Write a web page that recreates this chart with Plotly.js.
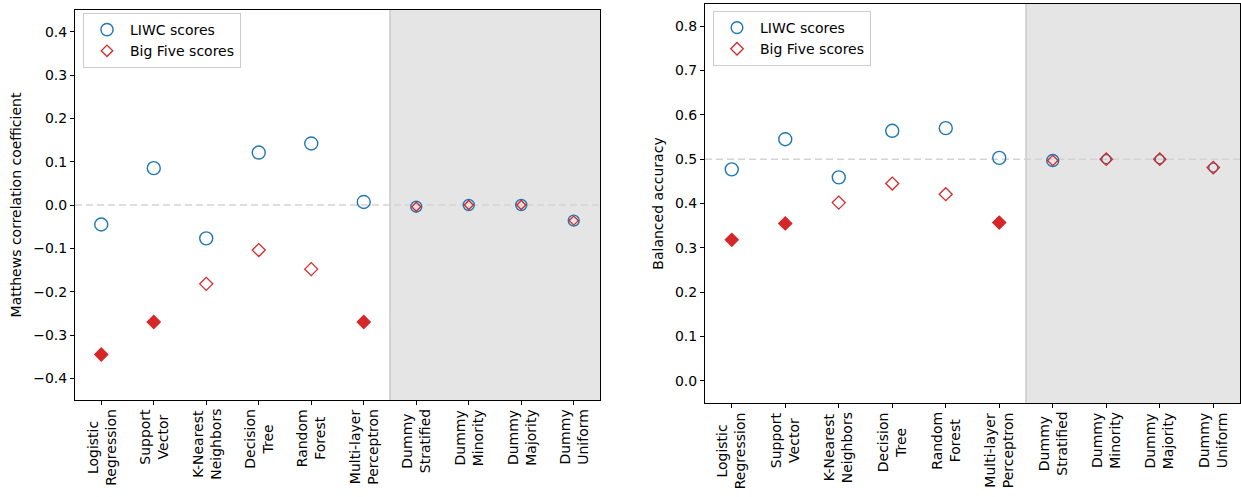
<!DOCTYPE html>
<html>
<head>
<meta charset="utf-8">
<script src="https://cdn.plot.ly/plotly-3.0.1.min.js"></script>
<style>html,body{margin:0;padding:0;background:#fff;}#chart{width:1241px;height:497px;}</style>
</head>
<body>
<div id="chart"></div>
<script>
// ---- Data ----
const categories = ['Logistic<br>Regression', 'Support<br>Vector', 'K-Nearest<br>Neighbors', 'Decision<br>Tree', 'Random<br>Forest', 'Multi-layer<br>Perceptron', 'Dummy<br>Stratified', 'Dummy<br>Minority', 'Dummy<br>Majority', 'Dummy<br>Uniform'];
const mccLiwc = [-0.045, 0.085, -0.077, 0.121, 0.142, 0.007, -0.004, 0.0, 0.0, -0.036];
const mccBigFive = [-0.345, -0.270, -0.182, -0.104, -0.148, -0.270, -0.004, 0.0, 0.0, -0.036];
const baLiwc = [0.477, 0.545, 0.459, 0.564, 0.570, 0.503, 0.497, 0.500, 0.500, 0.481];
const baBigFive = [0.318, 0.355, 0.402, 0.445, 0.421, 0.357, 0.497, 0.500, 0.500, 0.481];
// Big Five points drawn with a filled marker
const mccBigFiveFilled = [true, true, false, false, false, true, false, false, false, false];
const baBigFiveFilled = [true, true, false, false, false, true, false, false, false, false];
const seriesNames = ['LIWC scores', 'Big Five scores'];
const mccTitle = 'Matthews correlation coefficient';
const baTitle = 'Balanced accuracy';

// ---- Styles ----
const BLUE = '#1f77b4', RED = '#d62728';
const FONT = 'DejaVu Sans, sans-serif';
const dummyStart = 6;
const W = 1241, H = 497;

function sizes(main, dummy) { return categories.map((c, i) => i < dummyStart ? main : dummy[i - dummyStart]); }
function pick(vals, mask, want) { return vals.map((v, i) => mask[i] === want ? v : null); }

function panel(liwc, big, filled, xa, ya, leg, circDummy, diaDummy) {
  return [
    { x: categories, y: liwc, name: seriesNames[0], type: 'scatter', mode: 'markers', xaxis: xa, yaxis: ya, legend: leg,
      marker: { symbol: 'circle-open', color: BLUE, opacity: 1, size: sizes(13, circDummy), line: { width: 1.4, color: BLUE } } },
    { x: categories, y: pick(big, filled, false), name: seriesNames[1], type: 'scatter', mode: 'markers', xaxis: xa, yaxis: ya, legend: leg,
      marker: { symbol: 'diamond-open', color: RED, opacity: 1, size: sizes(10, diaDummy), line: { width: 1.3, color: RED } } },
    { x: categories, y: pick(big, filled, true), name: seriesNames[1], showlegend: false, type: 'scatter', mode: 'markers', xaxis: xa, yaxis: ya, legend: leg,
      marker: { symbol: 'diamond', color: RED, opacity: 1, size: 10, line: { width: 1.3, color: RED } } }
  ];
}

const traces = [].concat(
  panel(mccLiwc, mccBigFive, mccBigFiveFilled, 'x', 'y', 'legend', [11, 11, 11, 11], [7, 7, 7, 7]),
  panel(baLiwc, baBigFive, baBigFiveFilled, 'x2', 'y2', 'legend2', [12, 9, 9, 9], [8, 9.5, 9.5, 9.5])
);

const xCommon = {
  type: 'category', range: [-0.5, 9.5], ticks: 'outside', ticklen: 4, tickcolor: '#000', tickwidth: 1,
  showticklabels: false,
  showline: true, linecolor: '#000', linewidth: 1, mirror: true, showgrid: false, zeroline: false, fixedrange: true
};
const yCommon = {
  ticks: 'outside', ticklen: 4, tickcolor: '#000', tickwidth: 1, dtick: 0.1, tick0: 0, tickformat: '.1f',
  showline: true, linecolor: '#000', linewidth: 1, mirror: true, showgrid: false, zeroline: false,
  tickfont: { family: FONT, size: 14, color: '#000' }
};

const legendCommon = {
  xanchor: 'left', yanchor: 'top', bordercolor: '#cccccc', borderwidth: 1, bgcolor: 'rgba(255,255,255,0.8)',
  font: { family: FONT, size: 14, color: '#000' }, itemwidth: 36, tracegroupgap: 0
};

// Category labels under each panel (rotated, centred multi-line like the reference)
function labels(xref, yref) {
  return categories.map((c, i) => ({
    text: c, xref: xref, yref: yref, x: i, y: 0, xanchor: 'center', yanchor: 'top', yshift: -7,
    textangle: -90, align: 'center', showarrow: false, font: { family: FONT, size: 14, color: '#000' }
  }));
}

const layout = {
  width: W, height: H, margin: { l: 0, r: 0, t: 0, b: 0 }, paper_bgcolor: '#fff', plot_bgcolor: 'rgba(0,0,0,0)',
  showlegend: true, font: { family: FONT, size: 14, color: '#000' },
  xaxis: Object.assign({}, xCommon, { domain: [75 / W, 600 / W], anchor: 'y' }),
  yaxis: Object.assign({}, yCommon, { domain: [1 - 400 / H, 1 - 10 / H], range: [-0.45, 0.45], anchor: 'x',
    title: { text: mccTitle, font: { family: FONT, size: 14, color: '#000' }, standoff: 8 } }),
  xaxis2: Object.assign({}, xCommon, { domain: [705 / W, 1240 / W], anchor: 'y2' }),
  yaxis2: Object.assign({}, yCommon, { domain: [1 - 403 / H, 1 - 4 / H], range: [-0.05, 0.85], anchor: 'x2',
    title: { text: baTitle, font: { family: FONT, size: 14, color: '#000' }, standoff: 8 } }),
  legend: Object.assign({}, legendCommon, { x: 83 / W, y: 1 - 13 / H }),
  legend2: Object.assign({}, legendCommon, { x: 713 / W, y: 1 - 11 / H }),
  annotations: [].concat(labels('x', 'y domain'), labels('x2', 'y2 domain')),
  shapes: [
    { type: 'rect', xref: 'x', yref: 'y domain', x0: 5.5, x1: 9.5, y0: 0, y1: 1, fillcolor: '#e5e5e5', line: { width: 0 }, layer: 'below' },
    { type: 'line', xref: 'x', yref: 'y domain', x0: 5.5, x1: 5.5, y0: 0, y1: 1, line: { color: '#c8c8c8', width: 1.5 }, layer: 'below' },
    { type: 'line', xref: 'x domain', yref: 'y', x0: 0, x1: 1, y0: 0, y1: 0, line: { color: '#d3d3d3', width: 1.5, dash: '7px,4px' }, layer: 'below' },
    { type: 'rect', xref: 'x2', yref: 'y2 domain', x0: 5.5, x1: 9.5, y0: 0, y1: 1, fillcolor: '#e5e5e5', line: { width: 0 }, layer: 'below' },
    { type: 'line', xref: 'x2', yref: 'y2 domain', x0: 5.5, x1: 5.5, y0: 0, y1: 1, line: { color: '#c8c8c8', width: 1.5 }, layer: 'below' },
    { type: 'line', xref: 'x2 domain', yref: 'y2', x0: 0, x1: 1, y0: 0.5, y1: 0.5, line: { color: '#d3d3d3', width: 1.5, dash: '7px,4px' }, layer: 'below' }
  ]
};

Plotly.newPlot('chart', traces, layout, { displayModeBar: false, staticPlot: true });
</script>
</body>
</html>
